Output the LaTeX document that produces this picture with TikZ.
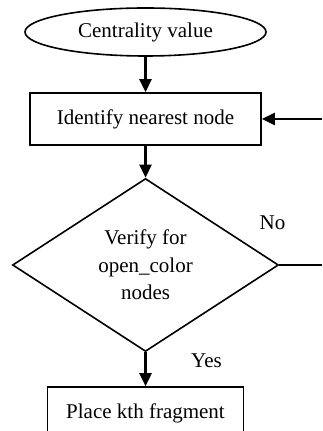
\documentclass[tikz,border=0pt]{standalone}
\usepackage{fontspec}
\setmainfont{Liberation Serif}
\usepackage{tikz}
\usetikzlibrary{shapes.geometric,arrows.meta,positioning}
\tikzstyle{startstop} = [draw, ellipse, line width=0.8pt, text centered, minimum width=120.5pt, minimum height=24pt, inner sep=0pt]
\tikzstyle{process} = [draw, rectangle, line width=0.8pt, text centered, minimum width=115.5pt, minimum height=26pt, inner sep=0pt]
\tikzstyle{outproc} = [draw, rectangle, line width=0.8pt, text centered, minimum width=98pt, minimum height=26pt, inner sep=0pt]
\tikzstyle{decision} = [draw, diamond, line width=0.8pt, align=center, minimum width=133pt, minimum height=86.5pt, inner sep=0pt]
\tikzstyle{arrow} = [draw, line width=1.3pt, -{Triangle[length=6.5pt,width=6pt]}]
\tikzstyle{line} = [draw, line width=1.3pt]
\newcommand{\startstop}[2]{node (s#1) [startstop] {#2}}
\newcommand{\process}[2]{node (p#1) [process] {#2}}
\newcommand{\outproc}[2]{node (o#1) [outproc] {#2}}
\newcommand{\decision}[2]{node (d#1) [decision] {#2}}
\begin{document}
\begin{tikzpicture}[x=0.5pt,y=0.5pt,font=\fontsize{10.5}{13.75}\selectfont]
\clip (0,0) rectangle (322,-431);
\path (145.5,-32) \startstop{1}{Centrality value};
\path (s1)+(0,-87) \process{1}{Identify nearest node};
\path [arrow] (s1.south) -- (p1.north) node[] {};
\coordinate (c1) at (322,-119);
\path [arrow] (c1) -- (p1.east) node[] {};

\path (p1)+(0,-146) \decision{1}{Verify for\\open\_color\\nodes};
\path [arrow] (p1.south) -- (d1.north) node[] {};
\coordinate (c2) at (322,-265);
\path [line] (d1.east) -- (c2) node[] {};
\path (d1)+(127,42) node (l1) {No};

\path (d1)+(0,-148) \outproc{1}{Place kth fragment};
\path [arrow] (d1.south) -- (o1.north) node[] {};
\path (d1)+(61,-96) node (l2) {Yes};
\end{tikzpicture}
\end{document}
